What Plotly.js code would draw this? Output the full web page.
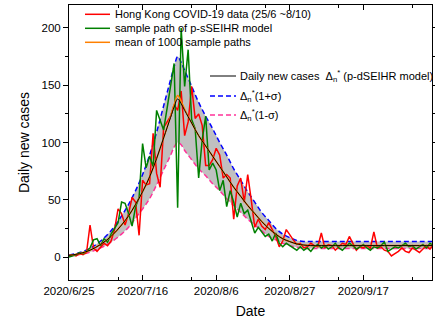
<!DOCTYPE html>
<html><head><meta charset="utf-8">
<script src="https://cdn.plot.ly/plotly-3.0.1.min.js"></script>
<style>html,body{margin:0;padding:0;background:#fff}#chart{width:435px;height:322px}</style>
</head><body><div id="chart"></div>
<script>
// ---- data (day 0 = 2020-06-25) ----
const caseData = [1,2,1,3,2,4,28,8,5,9,
 12,10,14,24,42,38,28,38,52,48,
 19,67,63,64,108,73,61,113,118,123,
 133,128,145,106,118,149,121,125,115,80,
 80,85,95,89,69,72,69,33,62,69,
 48,72,50,26,33,27,24,30,24,18,
 9,14,24,19,15,11,12,8,9,12,
 10,9,21,8,11,10,6,9,12,11,
 18,12,6,9,8,10,8,22,8,9,
 6,5,1,3,5,8,5,4,8,6,
 4,7,10,7,11,9];
const samplePath = [0,1,2,4,3,5,8,15,16,10,
 16,13,20,25,30,48,47,38,27,44,
 52,99,78,88,79,128,120,111,130,149,
 169,43,200,149,181,120,112,69,102,123,
 76,82,76,58,67,44,58,48,35,47,
 38,41,30,21,26,22,18,20,14,21,
 12,9,12,10,8,6,9,6,8,5,
 9,11,8,10,7,9,12,8,6,9,
 12,10,7,9,11,8,6,9,8,10,
 13,5,7,9,8,10,12,9,10,7,
 9,11,8,12,10,9];
const modelDay   = [0,3,6,9,12,15,17,19,21,23,25,27,29,30,31,32,33,35,37,39,41,43,45,47,49,51,53,55,57,59,61,63,65,67,69,72,76,80,85,90,95,100,105];
const modelCases = [1.5,3,6,11,18,28,36,46,57,70,86,104,122,131,138,134,128,117,106,97,88,79,70,61,53,45,38,31,25,20,16,13.5,11.5,10.5,10,10,10,10,10,10,10,10,10];
const meanPaths  = [1.5,3,6,11,18,28,36,46,57,70,86,104,123,133,141,136,129,117,106,97,88,79,70,61,53,45,38,31,25,20,16,13.5,11.5,10.5,10,10,10,10,10,10,10,10,10];
const upperBound = [1.9,3.8,7.6,14,23,36,46,58,72,89,109,132,155,166,175,170,163,149,135,123,112,100,89,77,67,57,48,39,32,25,20,17,14.6,13.6,13.5,13.5,13.5,13.5,13.5,13.5,13.5,13.5,13.5];
const lowerBound = [1.1,2.2,4.4,8,13,20,26,34,42,51,63,76,89,96,100,98,93,85,77,71,64,58,51,45,39,33,28,23,18,15,12,10,8.5,7.8,7.5,7.5,7.5,7.5,7.5,7.5,7.5,7.5,7.5];

const xTickVals  = ['2020-06-25','2020-07-16','2020-08-06','2020-08-27','2020-09-17'];
const xTickText  = ['2020/6/25','2020/7/16','2020/8/6','2020/8/27','2020/9/17'];
const xMinorVals = ['2020-07-09','2020-07-30','2020-08-20','2020-09-10','2020-10-01'];
const yTickVals  = [0,50,100,150,200];

const legend1Names = ['Hong Kong COVID-19 data (25/6 ~8/10)','sample path of p-sSEIHR model','mean of 1000 sample paths'];
const legend2Names = ['Daily new cases&nbsp;&nbsp;Δ<sub>n</sub><sup>*</sup> (p-dSEIHR model)','Δ<sub>n</sub><sup>*</sup>(1+σ)','Δ<sub>n</sub><sup>*</sup>(1-σ)'];

// ---- styles ----
const C = {red:'#ff0000', green:'#008000', orange:'#ff8000', black:'#000000', blue:'#0000ff', pink:'#ff3399', band:'#c0c0c0'};
const FONT = 'Liberation Sans, Arial, sans-serif';

function dayToDate(d){ return new Date(Date.UTC(2020,5,25) + d*86400000).toISOString().slice(0,10); }
const dailyX = caseData.map((_,i)=>dayToDate(i));
const modelX = modelDay.map(dayToDate);

const traces = [
  {x:modelX, y:upperBound, mode:'lines', line:{width:0, color:C.band, shape:'spline'}, hoverinfo:'skip'},
  {x:modelX, y:lowerBound, mode:'lines', line:{width:0, color:C.band, shape:'spline'}, fill:'tonexty', fillcolor:C.band, hoverinfo:'skip'},
  {x:modelX, y:upperBound, mode:'lines', line:{color:C.blue, width:1.5, dash:'5px,3px', shape:'spline'}},
  {x:modelX, y:lowerBound, mode:'lines', line:{color:C.pink, width:1.5, dash:'5px,3px', shape:'spline'}},
  {x:dailyX, y:caseData, mode:'lines', line:{color:C.red, width:1.5}},
  {x:dailyX, y:samplePath, mode:'lines', line:{color:C.green, width:1.5}},
  {x:modelX, y:meanPaths, mode:'lines', line:{color:C.orange, width:1.5, shape:'spline'}},
  {x:modelX, y:modelCases, mode:'lines', line:{color:C.black, width:1, shape:'spline'}}
];

// pixel helpers for the hand-placed legends
const PL=69, PR=432, PT=5, PB=280;
const px = v => (v-PL)/(PR-PL);
const py = v => (PB-v)/(PB-PT);

const shapes = [], annotations = [];
const leg1Colors=[C.red,C.green,C.orange];
legend1Names.forEach((t,i)=>{
  const y = 14.3 + i*14;
  shapes.push({type:'line', xref:'paper', yref:'paper', x0:px(85), x1:px(110), y0:py(y), y1:py(y), line:{color:leg1Colors[i], width:1.5}});
  annotations.push({xref:'paper', yref:'paper', x:px(113), y:py(y), xanchor:'left', yanchor:'middle', showarrow:false, text:t, font:{size:11, color:'#000', family:FONT}});
});
const leg2Colors=[C.black,C.blue,C.pink], leg2Dash=['solid','5px,3px','5px,3px'], leg2Y=[76,96,115];
legend2Names.forEach((t,i)=>{
  const y = leg2Y[i];
  shapes.push({type:'line', xref:'paper', yref:'paper', x0:px(210), x1:px(236), y0:py(y), y1:py(y), line:{color:leg2Colors[i], width:i===0?1:1.5, dash:leg2Dash[i]}});
  annotations.push({xref:'paper', yref:'paper', x:px(238), y:py(y), xanchor:'left', yanchor:'middle', showarrow:false, text:t, font:{size:11, color:'#000', family:FONT}});
});

const layout = {
  width:435, height:322,
  margin:{l:PL, r:435-PR, t:PT, b:322-PB},
  paper_bgcolor:'#fff', plot_bgcolor:'#fff',
  showlegend:false,
  font:{family:FONT, size:11.5, color:'#000'},
  xaxis:{
    type:'date', range:['2020-06-25','2020-10-06 14:00'],
    tickmode:'array', tickvals:xTickVals, ticktext:xTickText,
    ticks:'inside', ticklen:5, tickwidth:1, tickcolor:'#000',
    minor:{tickmode:'array', tickvals:xMinorVals, ticks:'inside', ticklen:3, tickcolor:'#000'},
    showline:true, linecolor:'#000', linewidth:1, mirror:'ticks',
    showgrid:false, zeroline:false,
    tickfont:{size:11.5},
    title:{text:'Date', font:{size:14}, standoff:10}
  },
  yaxis:{
    range:[-20,220],
    tickmode:'array', tickvals:yTickVals,
    ticks:'outside', ticklen:5, tickwidth:1, tickcolor:'#000',
    minor:{dtick:25, tick0:0, ticks:'outside', ticklen:3, tickcolor:'#000'},
    showline:true, linecolor:'#000', linewidth:1, mirror:'ticks',
    showgrid:false, zeroline:false,
    tickfont:{size:11.5},
    title:{text:'Daily new cases', font:{size:14}, standoff:8}
  },
  shapes, annotations
};

Plotly.newPlot('chart', traces, layout, {displayModeBar:false, staticPlot:true});
</script></body></html>
